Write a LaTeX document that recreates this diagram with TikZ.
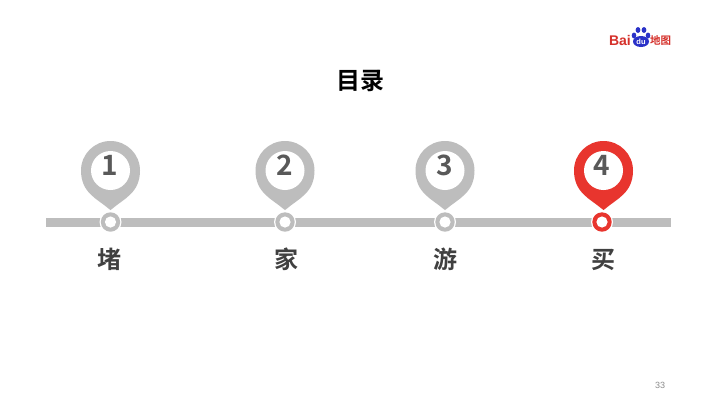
\documentclass[tikz,border=0pt]{standalone}
\usepackage{fontspec}
\setmainfont{Liberation Sans}
\newfontfamily\cjk{Noto Sans CJK SC}[BoldFont={* Bold}]
\definecolor{pingray}{HTML}{BDBDBD}
\definecolor{pinred}{HTML}{E8352E}
\definecolor{numgray}{HTML}{595959}
\definecolor{labelgray}{HTML}{404040}
\definecolor{baidublue}{HTML}{2A32C8}
\definecolor{baidured}{HTML}{D5302A}
\tikzset{
  pinnum/.style={font=\cjk\fontsize{28}{28}\selectfont\bfseries, text=numgray, inner sep=0pt},
  pinlabel/.style={font=\cjk\fontsize{24}{24}\selectfont\bfseries, text=labelgray, inner sep=0pt},
  title/.style={font=\cjk\fontsize{24}{24}\selectfont\bfseries, text=black, inner sep=0pt},
  pagenum/.style={font=\fontsize{9}{9}\selectfont, text=black!45, inner sep=0pt},
  logobai/.style={font=\fontsize{14}{14}\selectfont\bfseries, text=baidured, inner sep=0pt},
  logomap/.style={font=\cjk\fontsize{10.5}{10.5}\selectfont\bfseries, text=baidured, inner sep=0pt},
  logodu/.style={font=\fontsize{7.5}{7.5}\selectfont\bfseries, text=white, inner sep=0pt},
}
\newcommand{\mypin}[8]{% pin x, ring x, label x, colour, number, label, number name, label name
  \fill[#4] (#1-29.5,170.5) arc[start angle=180,end angle=360,radius=29.5]
     .. controls (#1+29.5,193) and (#1+13,199) .. (#1+2,208.5)
     .. controls (#1+1,210.5) and (#1-1,210.5) .. (#1-2,208.5)
     .. controls (#1-13,199) and (#1-29.5,193) .. (#1-29.5,170.5) -- cycle;
  \fill[white] (#1,170.5) circle[radius=19.5];
  \fill[white] (#2,222) circle[radius=11];
  \fill[#4] (#2,222) circle[radius=9.7];
  \fill[white] (#2,222) circle[radius=5.6];
  \node[pinnum] (#7) at (#2-0.5,165) {#5};
  \node[pinlabel] (#8) at (#3,259.5) {#6};
}
\begin{document}
\begin{tikzpicture}[x=1pt,y=-1pt]
\useasboundingbox (0,0) rectangle (720,405);
\fill[white] (0,0) rectangle (720,405);
\node[title] (heading) at (360,81) {目录};
\fill[pingray] (46,217.5) rectangle (671,226.5);
\mypin{110.5}{110.5}{109.5}{pingray}{1}{堵}{n1}{l1}
\mypin{285}{285}{286.5}{pingray}{2}{家}{n2}{l2}
\mypin{445}{445}{445}{pingray}{3}{游}{n3}{l3}
\mypin{603.5}{602}{603}{pinred}{4}{买}{n4}{l4}
\node[pagenum] (page) at (660,385.5) {33};
% logo
\node[logobai, anchor=east] (bai) at (631,40.5) {Bai};
\fill[baidublue] (634,35.5) ellipse[x radius=2.3,y radius=3];
\fill[baidublue] (638,30) ellipse[x radius=2.4,y radius=3];
\fill[baidublue] (644,30) ellipse[x radius=2.4,y radius=3];
\fill[baidublue] (648,35.5) ellipse[x radius=2.3,y radius=3];
\fill[baidublue] (641,41.5) ellipse[x radius=8,y radius=5.5];
\node[logodu] (du) at (641,42) {du};
\node[logomap, anchor=west] (map) at (650,41) {地图};
\end{tikzpicture}
\end{document}
